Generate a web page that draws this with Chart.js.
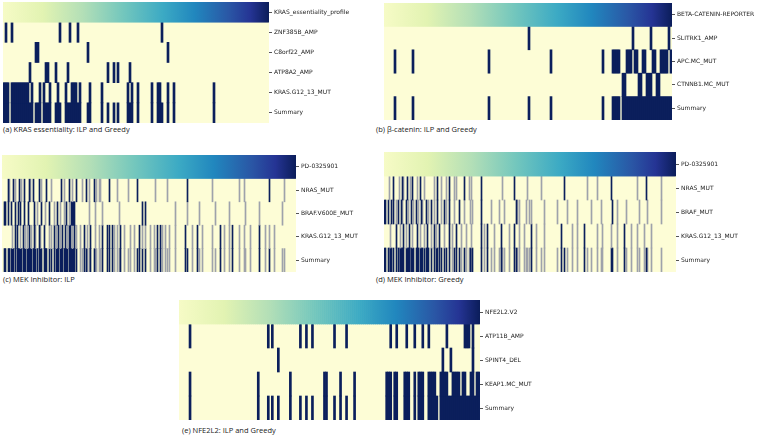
<!DOCTYPE html>
<html>
<head>
<meta charset="utf-8">
<script src="https://cdn.jsdelivr.net/npm/chart.js@4.4.1/dist/chart.umd.min.js"></script>
<style>
  body { margin: 0; width: 769px; height: 436px; background: #fff; position: relative; overflow: hidden; }
  .panel { position: absolute; }
  .cap { position: absolute; font-family: "Open Sans", sans-serif; font-size: 7.5px; color: #222; white-space: nowrap; }
</style>
</head>
<body>
<div class="panel" id="wa"><canvas id="ca"></canvas></div>
<div class="panel" id="wb"><canvas id="cb"></canvas></div>
<div class="panel" id="wc"><canvas id="cc"></canvas></div>
<div class="panel" id="wd"><canvas id="cd"></canvas></div>
<div class="panel" id="we"><canvas id="ce"></canvas></div>
<div class="cap" style="left:3px;top:124px">(a) KRAS essentiality: ILP and Greedy</div>
<div class="cap" style="left:376px;top:124px">(b) β-catenin: ILP and Greedy</div>
<div class="cap" style="left:3px;top:274px">(c) MEK Inhibitor: ILP</div>
<div class="cap" style="left:376px;top:274px">(d) MEK Inhibitor: Greedy</div>
<div class="cap" style="left:182px;top:425px">(e) NFE2L2: ILP and Greedy</div>
<script>
const CREAM = "#fdfdd6";
const NAVY = "#0b1f5c";
const GRAY = "#9ea2ab";
const YLGNBU = [
  [0, "#f6fbc6"], [0.15, "#e2f3b2"], [0.3, "#b3dfb7"], [0.45, "#74c7bd"],
  [0.6, "#3caac4"], [0.72, "#2187be"], [0.85, "#2a56a5"], [0.93, "#253494"], [1, "#0b1d5a"],
];

// (a) KRAS essentiality
const aRows = ["KRAS_essentiality_profile", "ZNF385B_AMP", "C8orf22_AMP", "ATP8A2_AMP", "KRAS.G12_13_MUT", "Summary"];
const aZnf = [1, 4, 28, 33, 37, 79];
const aC8 = [16, 17, 42, 82];
const aAtp = [13, 21, 22, 26, 32, 52, 55, 57, 63];
const aKras = [0, 1, 2, 4, 5, 6, 7, 8, 9, 10, 11, 12, 14, 18, 20, 23, 27, 31, 34, 35, 36, 38, 43, 49, 62, 64, 67, 74, 77, 78, 82, 85, 105];
const aSummary = [0, 1, 2, 4, 5, 6, 7, 8, 9, 10, 11, 12, 13, 14, 16, 17, 18, 20, 21, 22, 23, 26, 27, 28, 31, 32, 33, 34, 35, 36, 37, 38, 42, 43, 49, 52, 55, 57, 62, 63, 64, 67, 74, 77, 78, 79, 82, 85, 105];

// (b) beta-catenin
const bRows = ["BETA-CATENIN-REPORTER", "SLITRK1_AMP", "APC.MC_MUT", "CTNNB1.MC_MUT", "Summary"];
const bSlitrk = [72, 124, 133, 142];
const bApc = [5, 14, 52, 83, 109, 114, 115, 116, 117, 121, 122, 123, 125, 126, 129, 130, 134, 135, 138, 139, 140, 141, 143];
const bCtnnb = [119, 120, 127, 128, 131, 132, 133, 136, 137];
const bSummary = [5, 14, 52, 72, 83, 109, 114, 115, 116, 117, 119, 120, 121, 122, 123, 124, 125, 126, 127, 128, 129, 130, 131, 132, 133, 134, 135, 136, 137, 138, 139, 140, 141, 142, 143];

// (c) MEK inhibitor, ILP (dark = solid navy cells, light = faint cells)
const cRows = ["PD-0325901", "NRAS_MUT", "BRAF.V600E_MUT", "KRAS.G12_13_MUT", "Summary"];
const cNrasDark = [6, 11, 17, 22, 27, 31, 37, 44, 59, 67, 74, 84, 92, 107, 135, 185, 267];
const cNrasLight = [7, 13, 19, 28, 39, 49, 62, 70, 80, 87, 94, 97, 98, 115, 126, 153, 165, 210, 237, 242, 282];
const cBrafDark = [2, 3, 6, 9, 13, 16, 18, 22, 26, 32, 39, 47, 55, 64, 69, 70, 71, 72, 140, 143];
const cBrafLight = [35, 43, 52, 58, 62, 67, 87, 93, 100, 117, 173, 185, 197, 213, 227, 243, 257, 280];
const cKrasDark = [13, 15, 21, 27, 32, 37, 42, 52, 56, 60, 63, 67, 68, 72, 82, 88, 100, 105, 107, 110, 118, 137, 155, 158, 183, 195, 218, 230, 257];
const cKrasLight = [10, 18, 23, 25, 29, 33, 38, 47, 49, 54, 58, 65, 70, 74, 78, 85, 93, 97, 112, 115, 122, 128, 132, 140, 143, 148, 152, 160, 163, 167, 173, 190, 200, 210, 222, 227, 237, 242, 248, 263, 267, 272];
const cSumDark = [2, 3, 6, 7, 9, 10, 11, 13, 15, 16, 17, 18, 19, 21, 22, 23, 25, 26, 27, 28, 29, 31, 32, 33, 35, 37, 38, 39, 42, 43, 44, 47, 49, 52, 54, 55, 56, 58, 59, 60, 62, 63, 64, 65, 67, 68, 69, 70, 71, 72, 74, 82, 84, 88, 92, 100, 105, 107, 110, 118, 135, 137, 140, 143, 155, 158, 183, 185, 195, 218, 230, 257, 267];
const cSumLight = [78, 80, 85, 87, 93, 94, 97, 98, 112, 115, 117, 122, 126, 128, 132, 148, 152, 153, 160, 163, 165, 167, 173, 190, 197, 200, 210, 213, 222, 227, 237, 242, 243, 248, 263, 272, 280, 282];

// (d) MEK inhibitor, Greedy
const dRows = ["PD-0325901", "NRAS_MUT", "BRAF_MUT", "KRAS.G12_13_MUT", "Summary"];
const dNrasDark = [9, 18, 23, 28, 36, 53, 65, 80, 97, 130, 180, 227, 262];
const dNrasLight = [5, 15, 19, 26, 33, 40, 50, 57, 62, 70, 72, 85, 87, 118, 143, 157, 203, 213, 253, 277];
const dBrafDark = [0, 1, 4, 7, 9, 14, 17, 22, 27, 32, 37, 42, 47, 53, 60, 65, 75, 97, 132, 228];
const dBrafLight = [12, 18, 24, 29, 34, 38, 44, 50, 57, 62, 70, 80, 86, 88, 107, 115, 120, 133, 135, 142, 145, 147, 160, 173, 183, 193, 207, 217, 233, 242, 255, 263, 277];
const dKrasDark = [12, 19, 25, 33, 43, 50, 55, 65, 72, 97, 103, 117, 130, 147, 177, 200, 240];
const dKrasLight = [6, 16, 22, 28, 36, 40, 47, 52, 60, 68, 77, 82, 87, 100, 110, 125, 135, 140, 152, 160, 188, 193, 213, 218, 227, 233, 247, 253, 260, 267];
const dSumDark = [0, 1, 4, 6, 7, 9, 12, 14, 16, 17, 18, 19, 22, 23, 24, 25, 27, 28, 29, 32, 33, 34, 36, 37, 38, 40, 42, 43, 44, 47, 50, 52, 53, 55, 57, 60, 62, 65, 70, 72, 75, 80, 86, 88, 97, 103, 117, 130, 132, 147, 177, 180, 200, 227, 228, 240, 262];
const dSumLight = [5, 15, 26, 68, 77, 82, 85, 87, 100, 107, 110, 115, 118, 120, 125, 133, 135, 140, 142, 143, 145, 152, 157, 160, 173, 183, 188, 193, 203, 207, 213, 217, 218, 233, 242, 247, 253, 255, 260, 263, 267, 277];

// (e) NFE2L2
const eRows = ["NFE2L2.V2", "ATP11B_AMP", "SPINT4_DEL", "KEAP1.MC_MUT", "Summary"];
const eAtp = [5, 44, 46, 60, 63, 66, 77, 83, 105, 108, 113, 117, 121, 124, 133, 142, 143, 144, 146];
const eSpint = [49, 131, 135, 146];
const eKeap = [5, 39, 55, 72, 73, 80, 87, 103, 104, 105, 107, 108, 112, 113, 114, 117, 119, 120, 121, 124, 125, 126, 127, 130, 131, 132, 133, 136, 137, 138, 139, 141, 142, 145, 146, 148, 149];
const eSummary = [5, 39, 44, 46, 49, 55, 60, 63, 66, 72, 73, 77, 80, 83, 87, 103, 104, 105, 107, 108, 112, 113, 114, 117, 119, 120, 121, 124, 125, 126, 127, 128, 130, 131, 132, 133, 134, 135, 136, 137, 138, 139, 140, 141, 142, 143, 144, 145, 146, 147, 148, 149];

const creamBg = {
  id: "creamBg",
  beforeDatasetsDraw(chart) {
    const { ctx, chartArea: a } = chart;
    ctx.save();
    ctx.fillStyle = CREAM;
    ctx.fillRect(a.left, a.top, a.width, a.height);
    ctx.restore();
  },
};

function cellsFor(n, list, r) {
  const d = new Array(n).fill(null);
  for (const i of list) if (i < n) d[i] = [r, r + 1];
  return d;
}

function profileFill(c) {
  const a = c.chart.chartArea;
  if (!a) return YLGNBU[4][1];
  const g = c.chart.ctx.createLinearGradient(a.left, 0, a.right, 0);
  for (const [s, col] of YLGNBU) g.addColorStop(s, col);
  return g;
}

function makePanel(id, box, n, rows, marks) {
  const wrap = document.getElementById("w" + id);
  Object.assign(wrap.style, {
    left: box.x + "px", top: box.y + "px",
    width: box.w + box.lw + "px", height: box.h + "px",
  });
  const datasets = [{
    data: new Array(n).fill([0, 1]),
    backgroundColor: profileFill,
  }];
  for (const m of marks) {
    datasets.push({ data: cellsFor(n, m.dark, m.row), backgroundColor: NAVY });
    if (m.light) datasets.push({ data: cellsFor(n, m.light, m.row), backgroundColor: GRAY });
  }
  datasets.forEach((d) => Object.assign(d, { barPercentage: 1, categoryPercentage: 1, grouped: false, borderWidth: 0 }));

  new Chart(document.getElementById("c" + id), {
    type: "bar",
    data: { labels: Array.from({ length: n }, (_, i) => i), datasets },
    options: {
      responsive: true,
      maintainAspectRatio: false,
      animation: false,
      layout: { padding: 0 },
      plugins: { legend: { display: false }, tooltip: { enabled: false } },
      scales: {
        x: { display: false },
        y: {
          type: "linear",
          position: "right",
          min: 0,
          max: rows.length,
          reverse: true,
          afterBuildTicks: (s) => { s.ticks = rows.map((_, i) => ({ value: i + 0.5 })); },
          afterFit: (s) => { s.width = box.lw; s.paddingTop = 0; s.paddingBottom = 0; },
          ticks: {
            autoSkip: false,
            padding: 2,
            color: "#222",
            font: { family: "DejaVu Sans", size: 6 },
            callback: (v, i) => rows[i],
          },
          grid: { drawOnChartArea: false, drawTicks: true, tickLength: 3, color: "#555" },
          border: { display: false },
        },
      },
    },
    plugins: [creamBg],
  });
}

makePanel("a", { x: 3, y: 2, w: 266, h: 121, lw: 95 }, 133, aRows, [
  { row: 1, dark: aZnf }, { row: 2, dark: aC8 }, { row: 3, dark: aAtp },
  { row: 4, dark: aKras }, { row: 5, dark: aSummary },
]);
makePanel("b", { x: 384, y: 3, w: 288, h: 117, lw: 97 }, 144, bRows, [
  { row: 1, dark: bSlitrk }, { row: 2, dark: bApc }, { row: 3, dark: bCtnnb }, { row: 4, dark: bSummary },
]);
makePanel("c", { x: 2, y: 155, w: 294, h: 117, lw: 85 }, 294, cRows, [
  { row: 1, dark: cNrasDark, light: cNrasLight },
  { row: 2, dark: cBrafDark, light: cBrafLight },
  { row: 3, dark: cKrasDark, light: cKrasLight },
  { row: 4, dark: cSumDark, light: cSumLight },
]);
makePanel("d", { x: 384, y: 152, w: 292, h: 120, lw: 85 }, 292, dRows, [
  { row: 1, dark: dNrasDark, light: dNrasLight },
  { row: 2, dark: dBrafDark, light: dBrafLight },
  { row: 3, dark: dKrasDark, light: dKrasLight },
  { row: 4, dark: dSumDark, light: dSumLight },
]);
makePanel("e", { x: 179, y: 300, w: 301, h: 120, lw: 80 }, 150, eRows, [
  { row: 1, dark: eAtp }, { row: 2, dark: eSpint }, { row: 3, dark: eKeap }, { row: 4, dark: eSummary },
]);
</script>
</body>
</html>
